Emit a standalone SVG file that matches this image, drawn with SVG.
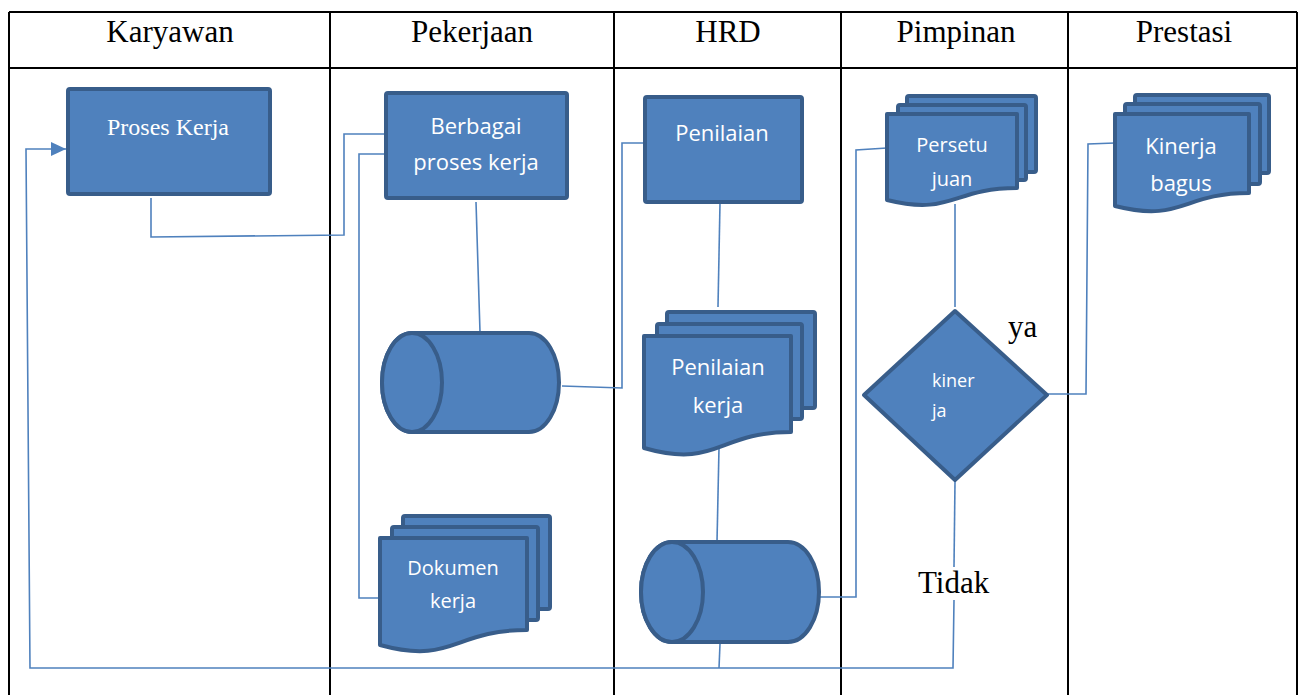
<svg xmlns="http://www.w3.org/2000/svg" width="1300" height="695" viewBox="0 0 1300 695">
<style>
.grid{stroke:#000;stroke-width:2;fill:none}
.hd{font-family:"Liberation Serif",serif;font-size:31px;fill:#000;text-anchor:middle}
.lbl{font-family:"Liberation Serif",serif;font-size:31px;fill:#000}
.sh{fill:#4f81bd;stroke:#385d8a;stroke-width:4;stroke-linejoin:round}
.tx{font-family:"Open Sans","Liberation Sans",sans-serif;fill:#fff;text-anchor:middle}
.cn{fill:none;stroke:#4f81bd;stroke-width:1.6}
</style>
<defs>
<marker id="arr" markerUnits="userSpaceOnUse" markerWidth="16" markerHeight="16" refX="15" refY="7" orient="auto">
<path d="M0,0 L15,7 L0,14 Z" fill="#4f81bd"/>
</marker>
</defs>
<rect width="1300" height="695" fill="#fff"/>
<g id="table">
<path class="grid" d="M9,12 H1297 M9,68 H1297 M9,12 V695 M330,12 V695 M614,12 V695 M841,12 V695 M1068,12 V695 M1297,12 V695"/>
<text class="hd" x="170" y="42">Karyawan</text>
<text class="hd" x="472" y="42">Pekerjaan</text>
<text class="hd" x="728" y="42">HRD</text>
<text class="hd" x="956" y="42">Pimpinan</text>
<text class="hd" x="1184" y="42">Prestasi</text>
</g>
<g id="connectors">
<path class="cn" d="M151,198 V237 L344,235 V134 H386"/>
<path class="cn" d="M386,154 H359 V598 H380"/>
<path class="cn" d="M476,202 L480,332"/>
<path class="cn" d="M562,386 L622,388 V143 H645"/>
<path class="cn" d="M720,203 L718,307"/>
<path class="cn" d="M719,448 L717,542"/>
<path class="cn" d="M820,597 H856 V150 L887,148"/>
<path class="cn" d="M955,204 V307"/>
<path class="cn" d="M1047,394 H1086 L1088,144 L1115,143"/>
<path class="cn" d="M955,482 L954,567"/>
<path class="cn" d="M954,600 L953,668 H30 L26,149 H66" marker-end="url(#arr)"/>
<path class="cn" d="M720,644 L719,668"/>
</g>
<g id="proses-kerja">
<rect class="sh" x="68" y="89" width="202" height="105" rx="2"/>
<text x="168" y="135" font-family="Liberation Serif,serif" font-size="24" fill="#fff" text-anchor="middle">Proses Kerja</text>
</g>
<g id="berbagai-proses-kerja">
<rect class="sh" x="386" y="93" width="181" height="105" rx="2"/>
<text class="tx" font-size="22" x="476" y="134">Berbagai</text>
<text class="tx" font-size="22" x="476" y="170">proses kerja</text>
</g>
<g id="penilaian">
<rect class="sh" x="645" y="97" width="157" height="105" rx="2"/>
<text class="tx" font-size="22" x="722" y="141">Penilaian</text>
</g>
<g id="persetujuan">
<rect class="sh" x="907" y="96" width="129" height="76" rx="2"/>
<rect class="sh" x="898" y="105" width="128" height="75" rx="2"/>
<path class="sh" d="M887,114 H1017 V188 C952,188 952,216 887,200 Z"/>
<text class="tx" font-size="20" x="952" y="152">Persetu</text>
<text class="tx" font-size="20" x="952" y="186">juan</text>
</g>
<g id="kinerja-bagus">
<rect class="sh" x="1135" y="95" width="134" height="78" rx="2"/>
<rect class="sh" x="1125" y="104" width="135" height="80" rx="2"/>
<path class="sh" d="M1115,114 H1249 V193 C1182,193 1182,223 1115,206 Z"/>
<text class="tx" font-size="22" x="1181" y="154">Kinerja</text>
<text class="tx" font-size="22" x="1181" y="191">bagus</text>
</g>
<g id="penyimpanan-pekerjaan">
<path class="sh" d="M412,333 H529 A30,49.5 0 0 1 529,432 H412 A30,49.5 0 0 1 412,333 Z"/>
<ellipse class="sh" cx="412" cy="382.5" rx="30" ry="49.5"/>
</g>
<g id="dokumen-kerja">
<rect class="sh" x="403" y="516" width="147" height="93" rx="2"/>
<rect class="sh" x="392" y="527" width="146" height="93" rx="2"/>
<path class="sh" d="M380,538 H527 V630 C453,630 453,665 380,645 Z"/>
<text class="tx" font-size="20" x="453" y="575">Dokumen</text>
<text class="tx" font-size="20" x="453" y="608">kerja</text>
</g>
<g id="penilaian-kerja">
<rect class="sh" x="667" y="312" width="148" height="96" rx="2"/>
<rect class="sh" x="657" y="324" width="145" height="95" rx="2"/>
<path class="sh" d="M644,336 H791 V432 C717,432 717,469 644,448 Z"/>
<text class="tx" font-size="22" x="718" y="375">Penilaian</text>
<text class="tx" font-size="22" x="718" y="413">kerja</text>
</g>
<g id="penyimpanan-hrd">
<path class="sh" d="M672,542 H788 A31,50 0 0 1 788,642 H672 A31,50 0 0 1 672,542 Z"/>
<ellipse class="sh" cx="672" cy="592" rx="31" ry="50"/>
</g>
<g id="kinerja">
<polygon class="sh" points="955,311 1047,395 955,480 864,395"/>
<text x="932" y="387" font-family="Open Sans,Liberation Sans,sans-serif" font-size="18" fill="#fff">kiner</text>
<text x="932" y="417" font-family="Open Sans,Liberation Sans,sans-serif" font-size="18" fill="#fff">ja</text>
</g>
<g id="labels">
<text class="lbl" x="1008" y="337">ya</text>
<text class="lbl" x="918" y="593">Tidak</text>
</g>
</svg>
